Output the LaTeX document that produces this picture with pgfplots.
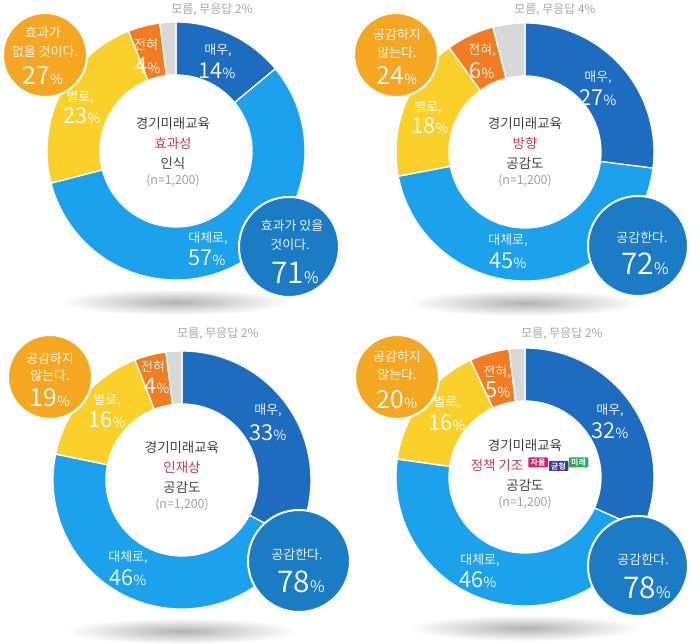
\documentclass[border=0pt]{standalone}
\usepackage{fontspec}
\setmainfont{Noto Sans CJK KR}[UprightFont={* DemiLight}, BoldFont={* Bold}]
\usepackage{pgfplots}
\pgfplotsset{compat=1.18}
\usetikzlibrary{patterns}

\definecolor{cVery}{RGB}{30,108,192}
\definecolor{cMost}{RGB}{28,162,236}
\definecolor{cNot}{RGB}{252,208,42}
\definecolor{cNever}{RGB}{243,124,33}
\definecolor{cDK}{RGB}{216,216,216}
\definecolor{cOrC}{RGB}{245,166,30}
\definecolor{cBlC}{RGB}{24,122,196}
\definecolor{cRed}{RGB}{200,38,58}
\definecolor{cTxt}{RGB}{45,45,45}
\definecolor{cGray}{RGB}{150,150,150}
\definecolor{tagA}{RGB}{214,32,104}
\definecolor{tagB}{RGB}{62,58,150}
\definecolor{tagC}{RGB}{46,168,92}

% sector: cx, cy, total, start, end, colour
\newcommand\sector[6]{%
 \filldraw[fill=#6, draw=white, line width=1.3pt]
 (axis cs:{#1+129*cos(90-((#4)/(#3))*360)},{#2+129*sin(90-((#4)/(#3))*360)})
 arc[start angle={90-((#4)/(#3))*360}, end angle={90-((#5)/(#3))*360}, radius=129bp]
 -- (axis cs:{#1+76*cos(90-((#5)/(#3))*360)},{#2+76*sin(90-((#5)/(#3))*360)})
 arc[start angle={90-((#5)/(#3))*360}, end angle={90-((#4)/(#3))*360}, radius=76bp]
 -- cycle;}
% donut: cx, cy (image coords), very, mostly, not really, never, don't know
\newcommand\donut[7]{%
 \shade[inner color=black!30, outer color=white] (axis cs:#1,{644-#2-151}) ellipse [x radius=116bp, y radius=13bp];
 \sector{#1}{644-#2}{(#3+#4+#5+#6+#7)}{0}{#3}{cVery}
 \sector{#1}{644-#2}{(#3+#4+#5+#6+#7)}{#3}{#3+#4}{cMost}
 \sector{#1}{644-#2}{(#3+#4+#5+#6+#7)}{#3+#4}{#3+#4+#5}{cNot}
 \sector{#1}{644-#2}{(#3+#4+#5+#6+#7)}{#3+#4+#5}{#3+#4+#5+#6}{cNever}
 \sector{#1}{644-#2}{(#3+#4+#5+#6+#7)}{#3+#4+#5+#6}{#3+#4+#5+#6+#7}{cDK}}
\newcommand\bubble[4]{% cx cy r colour
 \fill[#4] (axis cs:#1,{644-#2}) circle[radius=#3bp];
 \fill[pattern=north east lines, pattern color=white, opacity=0.06] (axis cs:#1,{644-#2}) circle[radius=#3bp];
 \draw[white, line width=2pt] (axis cs:#1,{644-#2}) circle[radius=#3bp];}
\newcommand\T[4][]{\node[inner sep=0pt, #1] at (axis cs:#2,{644-#3}) {#4};}
\newcommand\pct[3]{{\fontsize{#2}{#2}\selectfont #1}{\fontsize{#3}{#3}\selectfont\%}}

\tikzset{
 lab/.style={text=white, font=\fontsize{13}{13}\selectfont},
 num/.style={text=white},
 ctr/.style={text=cTxt, font=\fontsize{13.5}{13.5}\selectfont},
 red/.style={text=cRed, font=\fontsize{13.5}{13.5}\selectfont},
 nn/.style={text=cGray, font=\fontsize{12.5}{12.5}\selectfont},
 dk/.style={text=black!38, font=\fontsize{12}{12}\selectfont},
 tag/.style={text=white, font=\fontsize{8}{8}\selectfont\bfseries, inner sep=0.8pt, rounded corners=1pt, minimum width=19.5bp, minimum height=10bp}
}

\begin{document}
\begin{tikzpicture}
\useasboundingbox (0,0) rectangle (700bp,644bp);
\fill[white] (0,0) rectangle (700bp,644bp);
\begin{axis}[at={(0,0)}, anchor=origin, x=1bp, y=1bp,
 xmin=0, xmax=700, ymin=0, ymax=644, hide axis, clip=false]

% ---------- chart 1 ----------
\donut{176}{151}{14}{57}{23}{4}{2}
\T[dk]{212}{10}{모름, 무응답 2\%}
\T[lab]{218}{50}{매우,}
\T[num]{217}{71}{\pct{14}{22}{14}}
\T[lab]{146}{45}{전혀}
\T[num]{148}{66}{\pct{4}{22}{14}}
\T[lab]{80}{97}{별로,}
\T[num]{82}{116}{\pct{23}{22}{14}}
\T[lab]{208}{238}{대체로,}
\T[num]{207}{258}{\pct{57}{22}{14}}
\T[ctr]{173}{123}{경기미래교육}
\T[red]{173}{143}{효과성}
\T[ctr]{173}{163}{인식}
\T[nn]{173}{181}{(n=1,200)}
\bubble{45}{55}{42}{cOrC}
\T[lab]{43}{33}{효과가}
\T[lab]{45}{52}{없을 것이다.}
\T[num]{43}{76}{\pct{27}{25}{14}}
\bubble{289}{247}{50}{cBlC}
\T[lab]{292}{226}{효과가 있을}
\T[lab]{290}{245}{것이다.}
\T[num]{295}{273}{\pct{71}{30}{16}}

% ---------- chart 2 ----------
\donut{525}{152}{27}{45}{18}{6}{4}
\T[dk]{555}{10}{모름, 무응답 4\%}
\T[lab]{598}{77}{매우,}
\T[num]{598}{98}{\pct{27}{22}{14}}
\T[lab]{482}{50}{전혀,}
\T[num]{482}{71}{\pct{6}{22}{14}}
\T[lab]{428}{107}{별로,}
\T[num]{430}{126}{\pct{18}{22}{14}}
\T[lab]{508}{240}{대체로,}
\T[num]{508}{261}{\pct{45}{22}{14}}
\T[ctr]{525}{123}{경기미래교육}
\T[red]{525}{143}{방향}
\T[ctr]{525}{163}{공감도}
\T[nn]{525}{181}{(n=1,200)}
\bubble{396}{55}{42}{cOrC}
\T[lab]{397}{35}{공감하지}
\T[lab]{397}{53}{않는다.}
\T[num]{397}{76}{\pct{24}{25}{14}}
\bubble{638}{246}{50}{cBlC}
\T[lab]{642}{238}{공감한다.}
\T[num]{645}{264}{\pct{72}{30}{16}}

% ---------- chart 3 ----------
\donut{182}{480}{33}{46}{16}{4}{2}
\T[dk]{218}{334}{모름, 무응답 2\%}
\T[lab]{268}{410}{매우,}
\T[num]{268}{433}{\pct{33}{22}{14}}
\T[lab]{153}{367}{전혀}
\T[num]{157}{386}{\pct{4}{22}{14}}
\T[lab]{107}{400}{별로,}
\T[num]{107}{420}{\pct{16}{22}{14}}
\T[lab]{128}{557}{대체로,}
\T[num]{128}{578}{\pct{46}{22}{14}}
\T[ctr]{182}{447}{경기미래교육}
\T[red]{182}{467}{인재상}
\T[ctr]{182}{487}{공감도}
\T[nn]{182}{505}{(n=1,200)}
\bubble{50}{377}{42}{cOrC}
\T[lab]{50}{359}{공감하지}
\T[lab]{50}{376}{않는다.}
\T[num]{50}{398}{\pct{19}{25}{14}}
\bubble{299}{561}{51}{cBlC}
\T[lab]{297}{555}{공감한다.}
\T[num]{301}{582}{\pct{78}{30}{16}}

% ---------- chart 4 ----------
\donut{525}{477}{32}{46}{16}{5}{2}
\T[dk]{562}{334}{모름, 무응답 2\%}
\T[lab]{610}{410}{매우,}
\T[num]{610}{431}{\pct{32}{22}{14}}
\T[lab]{497}{372}{전혀,}
\T[num]{498}{390}{\pct{5}{22}{14}}
\T[lab]{447}{402}{별로,}
\T[num]{447}{423}{\pct{16}{22}{14}}
\T[lab]{480}{560}{대체로,}
\T[num]{478}{580}{\pct{46}{22}{14}}
\T[ctr]{525}{445}{경기미래교육}
\T[red]{497}{465}{정책 기조}
\T[tag, fill=tagA]{538}{462.5}{자율}
\T[tag, fill=tagB]{558.5}{466}{균형}
\T[tag, fill=tagC]{578.5}{462.5}{미래}
\T[ctr]{525}{485}{공감도}
\T[nn]{525}{503}{(n=1,200)}
\bubble{397}{377}{42}{cOrC}
\T[lab]{397}{357}{공감하지}
\T[lab]{397}{375}{않는다.}
\T[num]{397}{400}{\pct{20}{25}{14}}
\bubble{638}{566}{50}{cBlC}
\T[lab]{643}{560}{공감한다.}
\T[num]{647}{588}{\pct{78}{30}{16}}
\end{axis}
\end{tikzpicture}
\end{document}
